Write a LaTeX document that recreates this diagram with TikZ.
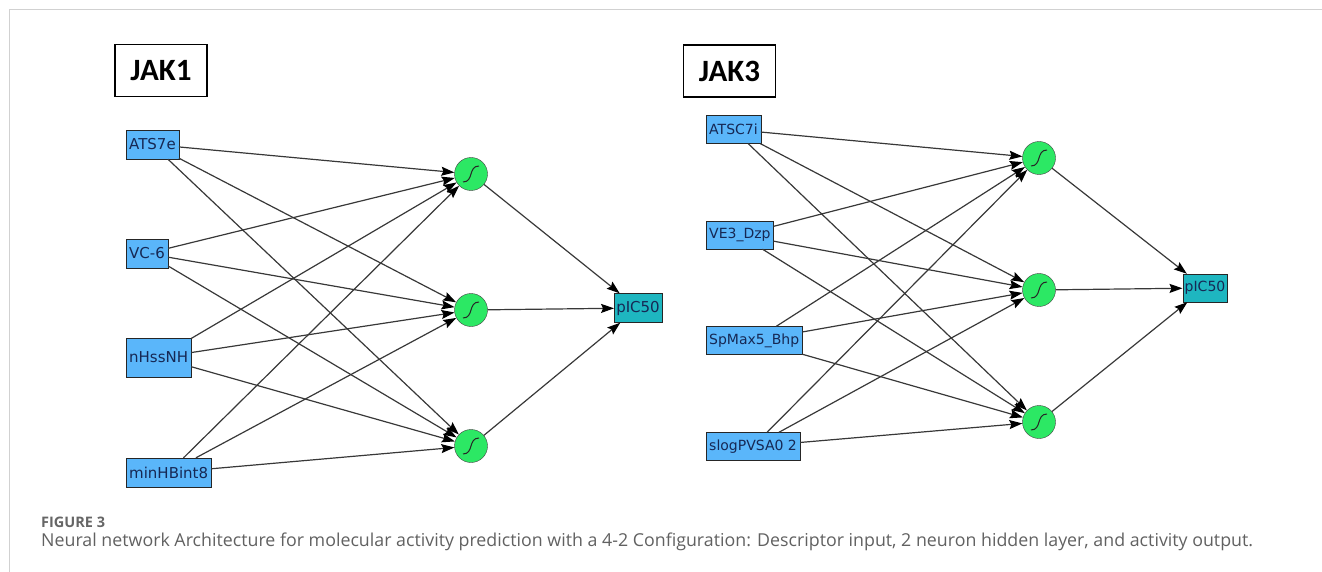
\documentclass[tikz,border=0pt]{standalone}
\usepackage{fontspec}
\usepackage{tikz}
\usetikzlibrary{positioning, arrows.meta}
\newfontfamily\boxfont{DejaVu Sans}
\newfontfamily\titlefont{Carlito}
\newfontfamily\capfont{Open Sans}
\definecolor{inblue}{RGB}{90,182,250}
\definecolor{hidgreen}{RGB}{44,232,100}
\definecolor{outteal}{RGB}{30,182,192}
\definecolor{labelnavy}{RGB}{22,40,84}
\tikzset{
x=1pt, y=-1pt, % one unit is one point, y runs downwards
input/.style={draw=black!85, fill=inblue, text=labelnavy, anchor=west, inner xsep=3pt, minimum height=29pt, font=\boxfont\fontsize{15}{17}\selectfont}, % descriptor boxes
output/.style={draw=black!85, fill=outteal, text=labelnavy, inner xsep=2pt, minimum height=29pt, font=\boxfont\fontsize{15}{17}\selectfont}, % pIC50 box
hidden/.style={circle, draw=black!75, fill=hidgreen, minimum size=33pt, inner sep=0pt,
  path picture={\draw[black!85, line width=1pt]
    ([shift={(-8pt,-8pt)}]path picture bounding box.center)
    .. controls ([shift={(3pt,-8pt)}]path picture bounding box.center)
    and ([shift={(-3pt,8pt)}]path picture bounding box.center)
    .. ([shift={(8pt,8pt)}]path picture bounding box.center);}}, % sigmoid neuron
title/.style={draw=black, line width=1.3pt, minimum width=92pt, minimum height=52pt, font=\titlefont\bfseries\fontsize{31}{34}\selectfont}, % JAK labels
link/.style={draw=black!78, line width=1.2pt, -{Stealth[length=13pt, width=9pt, inset=2pt, black]}}, % weighted connections
}

\begin{document}
\begin{tikzpicture}
    \useasboundingbox (0,0) rectangle (1322,572);
    \draw[black!18, line width=1.5pt] (1322,9.5) -- (9.5,9.5) -- (9.5,572);

    % JAK1 network
    \node[title] (t1) at (161,70.5) {JAK1};
    \node[input] (a1) at (126,144.5) {ATS7e};
    \node[input] (a2) at (126,253.5) {VC-6};
    \node[input, minimum height=39pt] (a3) at (126,357.5) {nHssNH};
    \node[input] (a4) at (126,472.5) {minHBint8};
    \node[hidden] (h1) at (471,174) {};
    \node[hidden] (h2) at (471,310) {};
    \node[hidden] (h3) at (471,446) {};
    \node[output] (o1) at (638,308) {pIC50};

    \draw[link] (a1) edge (h1) edge (h2) edge (h3)
                (a2) edge (h1) edge (h2) edge (h3)
                (a3) edge (h1) edge (h2) edge (h3)
                (a4) edge (h1) edge (h2) edge (h3)
                (h1) edge (o1)
                (h2) edge (o1)
                (h3) edge (o1)
                ;

    % JAK3 network
    \node[title] (t3) at (729.5,71) {JAK3};
    \node[input, minimum height=28pt, font=\boxfont\fontsize{14}{16}\selectfont] (b1) at (706,129.5) {ATSC7i};
    \node[input, minimum height=28pt, font=\boxfont\fontsize{14}{16}\selectfont] (b2) at (706,235) {VE3\_Dzp};
    \node[input, minimum height=28pt, font=\boxfont\fontsize{14}{16}\selectfont] (b3) at (706,340.5) {SpMax5\_Bhp};
    \node[input, minimum height=28pt, font=\boxfont\fontsize{14}{16}\selectfont] (b4) at (706,446.5) {slogPVSA0 2};
    \node[hidden] (g1) at (1039,158) {};
    \node[hidden] (g2) at (1039,290) {};
    \node[hidden] (g3) at (1039,422) {};
    \node[output, minimum height=28pt, font=\boxfont\fontsize{14}{16}\selectfont] (o3) at (1205,288) {pIC50};

    \draw[link] (b1) edge (g1) edge (g2) edge (g3)
                (b2) edge (g1) edge (g2) edge (g3)
                (b3) edge (g1) edge (g2) edge (g3)
                (b4) edge (g1) edge (g2) edge (g3)
                (g1) edge (o3)
                (g2) edge (o3)
                (g3) edge (o3)
                ;

    % caption
    \node[anchor=base west, inner sep=0pt, text=black!60, font=\capfont\bfseries\fontsize{14.5}{16}\selectfont] (fig) at (41,527) {FIGURE 3};
    \node[anchor=base west, inner sep=0pt, text=black!62, font=\capfont\fontsize{17.8}{20}\selectfont] (cap) at (41,546) {Neural network Architecture for molecular activity prediction with a 4-2 Configuration: Descriptor input, 2 neuron hidden layer, and activity output.};
\end{tikzpicture}
\end{document}
